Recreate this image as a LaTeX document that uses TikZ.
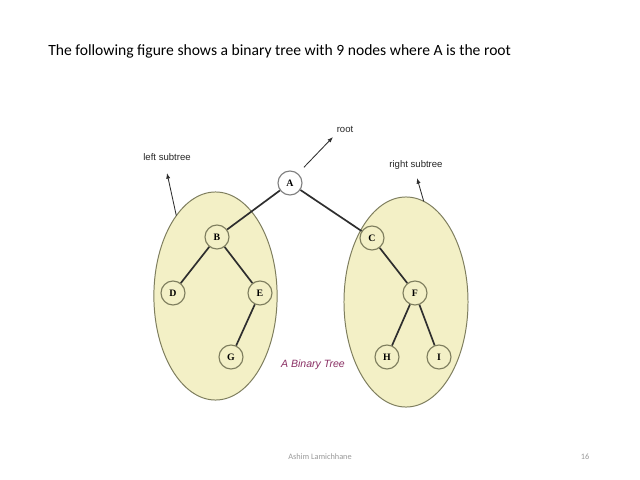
\documentclass[tikz,border=0pt]{standalone}
\usepackage{xcolor}
\usepackage{fontspec}
\setmainfont{Carlito}
\newfontfamily\labelfont{Liberation Sans}
\newfontfamily\keyfont{Liberation Serif}
\usetikzlibrary{shapes.geometric, arrows.meta, positioning}
\definecolor{paleyellow}{HTML}{F3F0C6}
\definecolor{olive}{HTML}{7E7E5E}
\definecolor{edgegray}{HTML}{2E2E2E}
\definecolor{caption}{HTML}{8A2F64}
\definecolor{footer}{HTML}{9A9A9A}

\begin{document}
\begin{tikzpicture}[
  x=0.025cm, y=-0.025cm,
  subtree/.style = {ellipse, draw=olive, fill=paleyellow, line width=0.7pt,
                    inner sep=0pt, outer sep=0pt},
  key/.style = {circle, draw=olive, line width=0.8pt, minimum size=0.6cm, inner sep=0pt,
                font=\keyfont\bfseries\fontsize{7}{8}\selectfont},
  edge/.style = {edgegray, line width=1.2pt},
  ptr/.style = {-{Latex[length=4pt, width=3pt]}, edgegray, line width=0.6pt},
  tag/.style = {font=\labelfont\fontsize{6.8}{8}\selectfont, text=black!85},
]
  \useasboundingbox (0,0) rectangle (640,480);
  \fill[white] (0,0) rectangle (640,480);

  \node[anchor=base west, inner sep=0pt, font=\fontsize{11.1}{13}\selectfont] (title) at (48,56)
    {The following figure shows a binary tree with 9 nodes where A is the root};

  % the two subtrees
  \node[subtree, minimum width=3.08cm, minimum height=5.2cm]  (lsub) at (215.5,296) {};
  \node[subtree, minimum width=3.1cm,  minimum height=5.25cm] (rsub) at (406,302) {};

  % keys
  \node[key, fill=white, draw=gray] (A) at (290,183) {A};
  \node[key] (B) at (217,237) {B};
  \node[key] (D) at (173,293) {D};
  \node[key] (E) at (260,293) {E};
  \node[key] (G) at (231,357) {G};
  \node[key] (C) at (372,238) {C};
  \node[key] (F) at (415,293) {F};
  \node[key] (H) at (387,357) {H};
  \node[key] (I) at (439,357) {I};

  \draw[edge] (A) -- (B);
  \draw[edge] (A) -- (C);
  \draw[edge] (B) -- (D);
  \draw[edge] (B) -- (E);
  \draw[edge] (E) -- (G);
  \draw[edge] (C) -- (F);
  \draw[edge] (F) -- (H);
  \draw[edge] (F) -- (I);

  % pointers and their labels
  \node[tag] (ltag) at (167,157) {left subtree};
  \node[tag] (rtag) at (416,165) {right subtree};
  \node[tag] (roottag) at (345,129) {root};
  \coordinate (ltip) at (167,173);
  \coordinate (rtip) at (417,178);
  \coordinate (roottip) at (333,137);

  \draw[ptr] (lsub.116) -- (ltip);
  \draw[ptr] (rsub.80) -- (rtip);
  \draw[ptr, shorten <=6pt] (A.50) -- (roottip);

  \node[font=\labelfont\itshape\fontsize{7.5}{9}\selectfont, text=caption] (cap) at (313,365) {A Binary Tree};

  % footer
  \node[font=\fontsize{5.9}{7}\selectfont, text=footer] (author) at (320,457) {Ashim Lamichhane};
  \node[font=\fontsize{5.9}{7}\selectfont, text=footer] (page) at (585,457) {16};
\end{tikzpicture}
\end{document}
